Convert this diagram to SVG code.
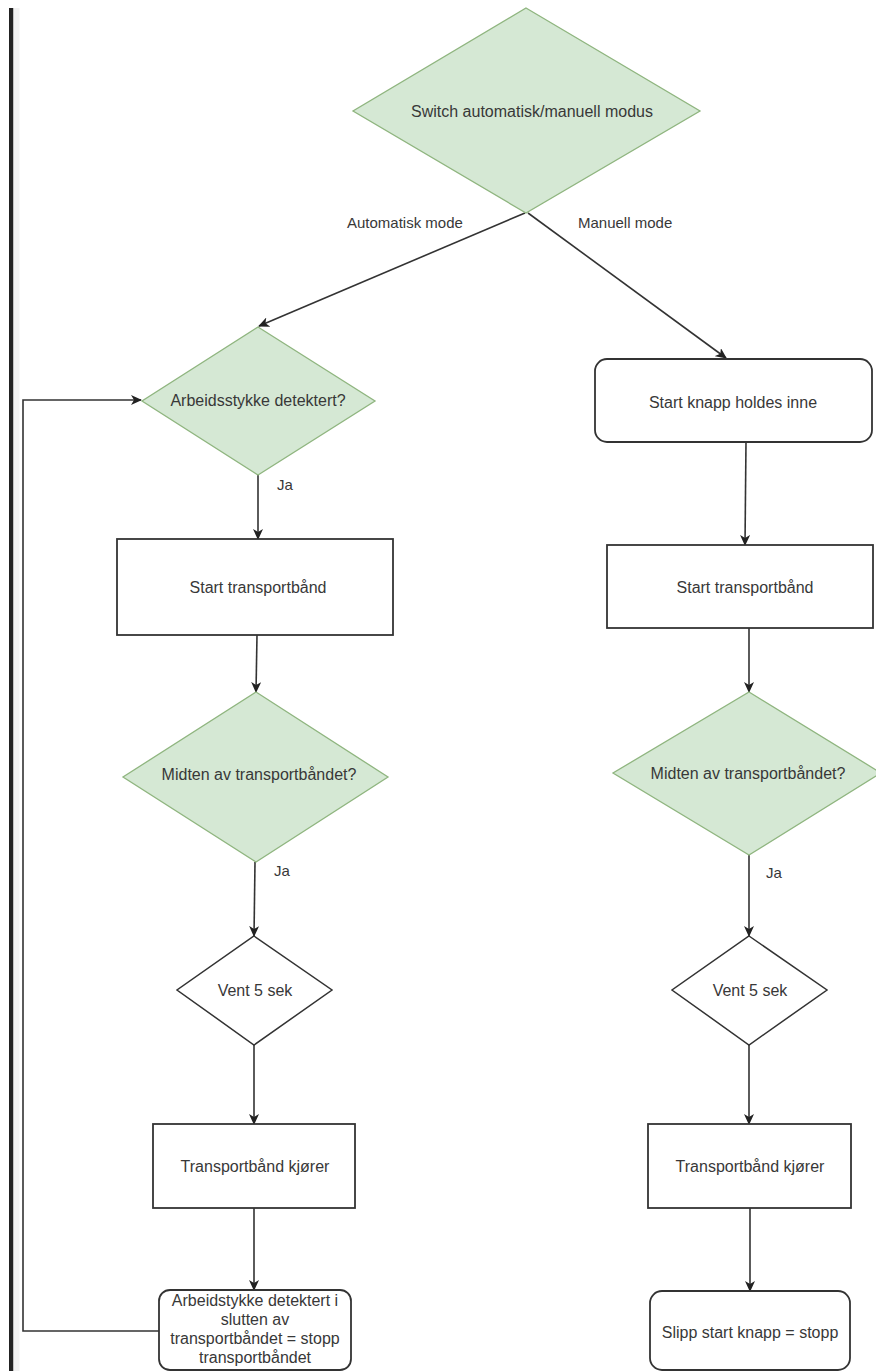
<svg xmlns="http://www.w3.org/2000/svg" width="876" height="1371" viewBox="0 0 876 1371">
  <style>
    .lbl { font-family: "Liberation Sans", Arial, sans-serif; font-size: 16px; fill: #383838; text-anchor: middle; }
    .edge-lbl { font-family: "Liberation Sans", Arial, sans-serif; font-size: 15px; fill: #383838; }
    .decision { fill: #d5e8d4; stroke: #8fb57f; stroke-width: 1.3; }
    .wait { fill: #ffffff; stroke: #333333; stroke-width: 1.5; }
    .box { fill: #ffffff; stroke: #333333; stroke-width: 1.8; }
    .conn { fill: none; stroke: #333333; stroke-width: 1.6; marker-end: url(#arrow); }
  </style>
  <defs>
    <marker id="arrow" markerUnits="userSpaceOnUse" markerWidth="12" markerHeight="10" refX="10" refY="5" orient="auto">
      <path d="M0,0 L11,5 L0,10 L3,5 z" fill="#222222"/>
    </marker>
  </defs>

  <!-- page background and left frame edge -->
  <rect x="0" y="0" width="876" height="1371" fill="#ffffff"/>
  <rect x="9" y="8" width="4.5" height="1363" fill="#222222"/>
  <rect x="13.5" y="8" width="6" height="1363" fill="#f1f1f1"/>

  <!-- connectors -->
  <g id="connectors">
    <line class="conn" x1="525" y1="213" x2="259" y2="326"/>
    <line class="conn" x1="528" y1="213" x2="726" y2="358"/>
    <line class="conn" x1="258" y1="475" x2="258" y2="539"/>
    <line class="conn" x1="257" y1="635" x2="256" y2="692"/>
    <line class="conn" x1="255" y1="862" x2="254" y2="936"/>
    <line class="conn" x1="254" y1="1045" x2="254" y2="1124"/>
    <line class="conn" x1="254" y1="1208" x2="254" y2="1290"/>
    <polyline class="conn" points="159,1331 23,1331 23,400 141,400"/>
    <line class="conn" x1="746" y1="442" x2="745" y2="545"/>
    <line class="conn" x1="749" y1="628" x2="749" y2="692"/>
    <line class="conn" x1="749" y1="855" x2="749" y2="936"/>
    <line class="conn" x1="749" y1="1045" x2="749" y2="1124"/>
    <line class="conn" x1="750" y1="1208" x2="750" y2="1291"/>
    <text class="edge-lbl" x="347" y="228">Automatisk mode</text>
    <text class="edge-lbl" x="578" y="228">Manuell mode</text>
    <text class="edge-lbl" x="277" y="490">Ja</text>
    <text class="edge-lbl" x="274" y="876">Ja</text>
    <text class="edge-lbl" x="766" y="878">Ja</text>
  </g>

  <!-- mode switch -->
  <g id="node-switch">
    <polygon class="decision" points="526,8 700,111 526,213 353,111"/>
    <text class="lbl" x="532" y="117">Switch automatisk/manuell modus</text>
  </g>

  <!-- automatic branch -->
  <g id="node-auto-detect">
    <polygon class="decision" points="258,327 375,401 258,475 142,401"/>
    <text class="lbl" x="258" y="406">Arbeidsstykke detektert?</text>
  </g>
  <g id="node-auto-start">
    <rect class="box" x="117" y="539" width="276" height="96"/>
    <text class="lbl" x="258" y="593">Start transportbånd</text>
  </g>
  <g id="node-auto-middle">
    <polygon class="decision" points="256,692 388,777 256,862 123,777"/>
    <text class="lbl" x="259" y="780">Midten av transportbåndet?</text>
  </g>
  <g id="node-auto-wait">
    <polygon class="wait" points="254,936 332,990 254,1045 177,990"/>
    <text class="lbl" x="255" y="996">Vent 5 sek</text>
  </g>
  <g id="node-auto-run">
    <rect class="box" x="153" y="1124" width="202" height="84"/>
    <text class="lbl" x="255" y="1172">Transportbånd kjører</text>
  </g>
  <g id="node-auto-stop">
    <rect class="box" x="159" y="1290" width="192" height="80" rx="11" ry="11"/>
    <text class="lbl" x="255" y="1306">Arbeidstykke detektert i</text>
    <text class="lbl" x="255" y="1325">slutten av</text>
    <text class="lbl" x="255" y="1344">transportbåndet = stopp</text>
    <text class="lbl" x="255" y="1363">transportbåndet</text>
  </g>

  <!-- manual branch -->
  <g id="node-manual-hold">
    <rect class="box" x="595" y="359" width="277" height="83" rx="12" ry="12"/>
    <text class="lbl" x="733" y="408">Start knapp holdes inne</text>
  </g>
  <g id="node-manual-start">
    <rect class="box" x="607" y="545" width="266" height="83"/>
    <text class="lbl" x="745" y="593">Start transportbånd</text>
  </g>
  <g id="node-manual-middle">
    <polygon class="decision" points="749,692 881,773 749,855 613,773"/>
    <text class="lbl" x="748" y="779">Midten av transportbåndet?</text>
  </g>
  <g id="node-manual-wait">
    <polygon class="wait" points="749,936 827,990 749,1045 672,990"/>
    <text class="lbl" x="750" y="996">Vent 5 sek</text>
  </g>
  <g id="node-manual-run">
    <rect class="box" x="648" y="1124" width="203" height="84"/>
    <text class="lbl" x="750" y="1172">Transportbånd kjører</text>
  </g>
  <g id="node-manual-stop">
    <rect class="box" x="650" y="1291" width="200" height="79" rx="12" ry="12"/>
    <text class="lbl" x="750" y="1338">Slipp start knapp = stopp</text>
  </g>
</svg>
